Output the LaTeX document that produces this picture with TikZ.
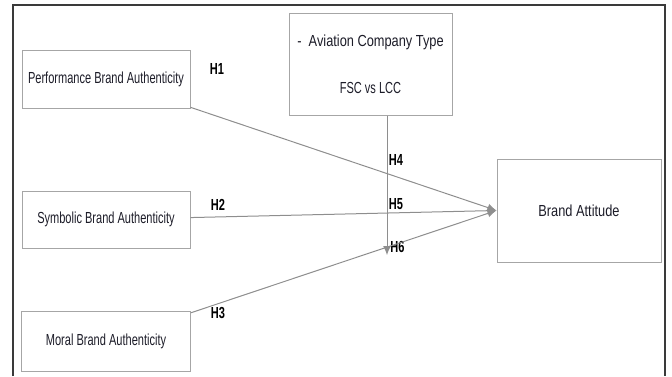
\documentclass[tikz,border=0pt]{standalone}
\usepackage{fontspec}
\setmainfont{Liberation Sans}
\newfontfamily\narrowfont[FakeStretch=0.69]{Liberation Sans}
\newfontfamily\widerfont[FakeStretch=0.8]{Liberation Sans}
\usepackage{tikz}
\usetikzlibrary{arrows.meta}
\definecolor{boxgray}{HTML}{A6A6A6}
\definecolor{linegray}{HTML}{8E8E8E}
\definecolor{framegray}{HTML}{3A3A3A}
\definecolor{textdark}{HTML}{1C1C28}
\tikzset{my_model/.style={x=1pt,y=-1pt,>={Latex[length=9pt,width=8pt]}}}
\tikzset{my_box/.style={draw=boxgray, line width=1pt, text=textdark, inner sep=0pt, align=center, font=\narrowfont\fontsize{16}{19}\selectfont}}
\tikzset{my_link/.style={->, draw=linegray, line width=1pt}}
\tikzset{my_hyp/.style={inner sep=0pt, text=black, font=\narrowfont\bfseries\fontsize{16}{19}\selectfont}}

\begin{document}
\begin{tikzpicture}[my_model]
    \useasboundingbox (0,0) rectangle (672,376);
    %\draw[help lines,step=20] (0,0) grid (672,376);
    \draw[framegray, line width=1.3pt] (13,376) -- (13,5) -- (665,5) -- (665,376);

    \node[my_box, minimum width=168, minimum height=58] (perf) at (106,79) {Performance Brand Authenticity};
    \node[my_box, minimum width=168, minimum height=57] (symb) at (106,219.5) {Symbolic Brand Authenticity};
    \node[my_box, minimum width=169, minimum height=60] (moral) at (106,341) {Moral Brand Authenticity};
    \node[my_box, minimum width=163, minimum height=102] (type) at (370.5,64) {{\widerfont -\ \ Aviation Company Type}\\[28pt]FSC vs LCC};
    \node[my_box, minimum width=164, minimum height=103] (att) at (579,210.5) {\widerfont Brand Attitude};
    \coordinate (modend) at (387,255);

    \node[my_hyp] (h1) at (217,69) {H1};
    \node[my_hyp] (h2) at (218,205) {H2};
    \node[my_hyp] (h3) at (218,313) {H3};
    \node[my_hyp] (h4) at (396,160) {H4};
    \node[my_hyp] (h5) at (396,204) {H5};
    \node[my_hyp] (h6) at (397.5,247) {H6};

    \path
        (perf) edge [my_link] (att.west)
        (symb) edge [my_link] (att.west)
        (moral) edge [my_link] (att.west)
        (type.south -| modend) edge [my_link] (modend)
    ;
\end{tikzpicture}
\end{document}
